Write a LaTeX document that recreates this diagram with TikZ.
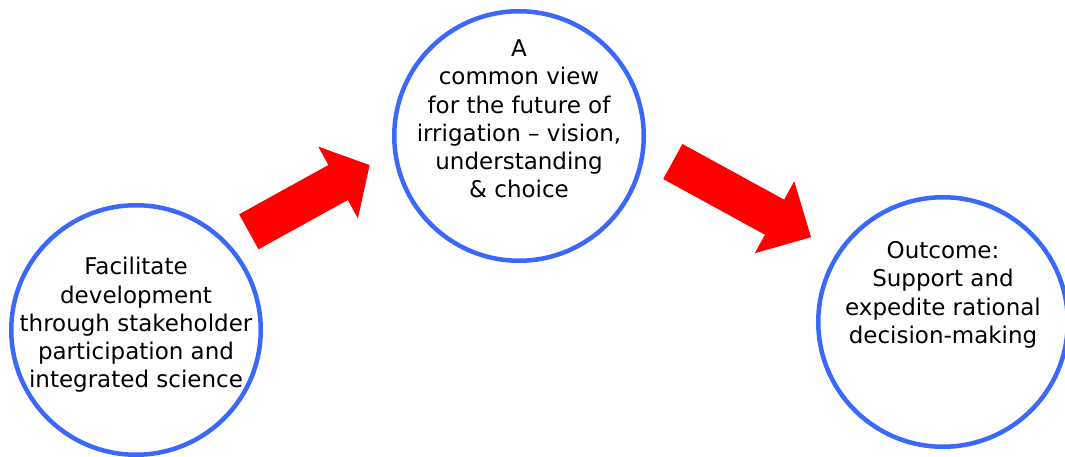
\documentclass[tikz,border=0pt]{standalone}
\usepackage{fontspec}
\setmainfont{DejaVu Sans}
\definecolor{ringblue}{RGB}{58,104,250}
\tikzset{
  ring/.style={circle,draw=ringblue,line width=4.5pt,minimum size=249.5pt,inner sep=0pt},
  ringtext/.style={align=center,font=\fontsize{23}{28.3}\selectfont,inner sep=0pt},
  blockarrow/.style={fill=red}
}
\begin{document}
\begin{tikzpicture}[x=1pt,y=1pt]
\useasboundingbox (0,0) rectangle (1065,-457);
% the three circles
\node[ring] (start) at (136,-330) {};
\node[ring] (view) at (519,-136) {};
\node[ring] (outcome) at (943,-322) {};
% their texts
\node[ringtext] (starttext) at ([yshift=5pt]start.center) {Facilitate\\development\\through stakeholder\\participation and\\integrated science};
\node[ringtext] (viewtext) at ([yshift=17pt]view.center) {A\\common view\\for the future of\\irrigation -- vision,\\understanding\\\& choice};
\node[ringtext] (outcometext) at ([yshift=27pt]outcome.center) {Outcome:\\Support and\\expedite rational\\decision-making};
% block arrows
\coordinate (tailone) at (248.8,-231.8);
\coordinate (tailtwo) at (672.8,-161.5);
\begin{scope}[shift={(tailone)},rotate=28.9]
\fill[blockarrow] (0,20) -- (102,20) -- (102,41) -- (138,0) -- (102,-41) -- (102,-20) -- (0,-20) -- cycle;
\end{scope}
\begin{scope}[shift={(tailtwo)},rotate=-28.7]
\fill[blockarrow] (0,20) -- (116,20) -- (116,41) -- (157.6,0) -- (116,-41) -- (116,-20) -- (0,-20) -- cycle;
\end{scope}
\end{tikzpicture}
\end{document}
